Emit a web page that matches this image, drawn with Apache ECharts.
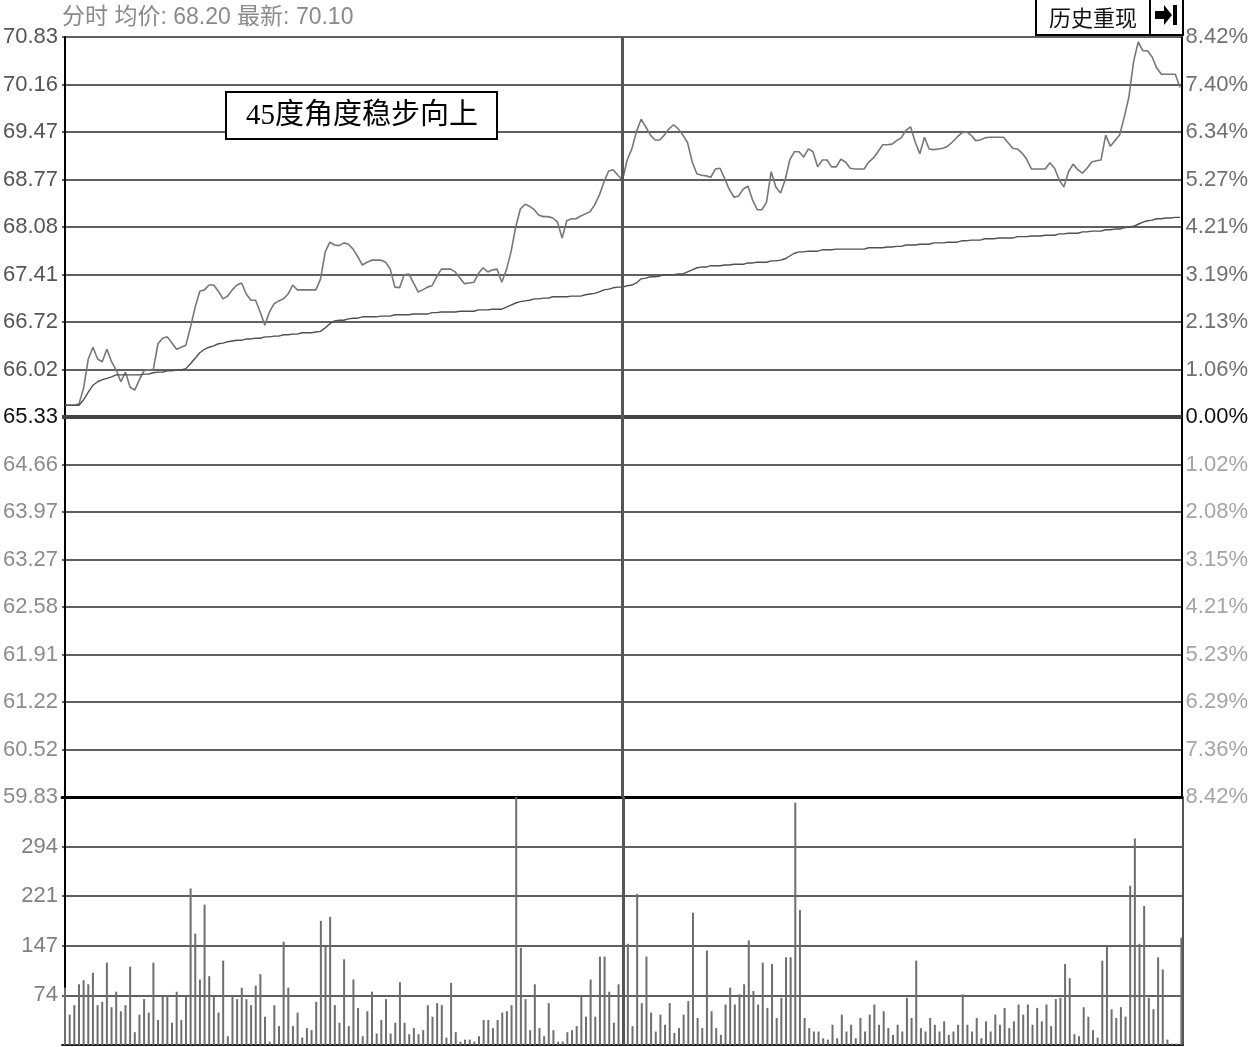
<!DOCTYPE html>
<html><head><meta charset="utf-8">
<script src="https://cdn.jsdelivr.net/npm/echarts@6.0.0/dist/echarts.min.js"></script>
<style>html,body{margin:0;padding:0;background:#fff}#c{width:1251px;height:1047px}</style>
</head><body><div id="c"></div>
<script>
// ---- data ----
const headerText = '分时 均价: 68.20 最新: 70.10';
const noteText = '45度角度稳步向上';
const buttonText = '历史重现';
const prevClose = 65.33;
const priceMin = 59.83, priceMax = 70.83, priceStep = 0.6875;
const priceTickLabels = ['59.83','60.52','61.22','61.91','62.58','63.27','63.97','64.66','65.33','66.02','66.72','67.41','68.08','68.77','69.47','70.16','70.83'];
const pctTickLabels = ['8.42%','7.36%','6.29%','5.23%','4.21%','3.15%','2.08%','1.02%','0.00%','1.06%','2.13%','3.19%','4.21%','5.27%','6.34%','7.40%','8.42%'];
const volMax = 367.5, volStep = 73.5;
const volTickLabels = ['','74','147','221','294',''];
const midMinute = 120;
const price = [65.50,65.50,65.50,65.52,65.75,66.17,66.34,66.17,66.13,66.31,
 66.13,66.01,65.84,65.98,65.76,65.72,65.87,66.00,66.01,66.02,
 66.39,66.47,66.49,66.40,66.31,66.34,66.37,66.63,66.92,67.15,
 67.17,67.24,67.24,67.15,67.04,67.08,67.17,67.24,67.27,67.11,
 67.02,67.02,66.85,66.66,66.85,66.97,67.01,67.04,67.11,67.24,
 67.17,67.17,67.17,67.17,67.17,67.33,67.72,67.86,67.82,67.81,
 67.85,67.83,67.76,67.65,67.53,67.57,67.60,67.60,67.60,67.57,
 67.47,67.21,67.20,67.39,67.40,67.27,67.14,67.17,67.21,67.23,
 67.36,67.47,67.47,67.47,67.43,67.34,67.26,67.27,67.28,67.41,
 67.49,67.43,67.46,67.47,67.28,67.46,67.72,68.08,68.34,68.41,
 68.38,68.33,68.25,68.23,68.23,68.21,68.15,67.92,68.17,68.20,
 68.20,68.24,68.27,68.30,68.40,68.54,68.73,68.89,68.91,68.83,
 68.76,69.05,69.21,69.46,69.64,69.53,69.41,69.34,69.34,69.41,
 69.50,69.56,69.50,69.41,69.30,69.02,68.85,68.83,68.82,68.80,
 68.92,68.93,68.78,68.62,68.51,68.53,68.63,68.67,68.47,68.33,
 68.33,68.44,68.88,68.66,68.57,68.76,69.05,69.17,69.17,69.09,
 69.21,69.17,68.95,69.05,69.05,68.95,68.95,69.06,69.02,68.93,
 68.92,68.92,68.92,69.02,69.08,69.17,69.27,69.27,69.28,69.33,
 69.37,69.48,69.53,69.31,69.14,69.38,69.21,69.20,69.21,69.22,
 69.25,69.31,69.38,69.44,69.46,69.41,69.33,69.34,69.37,69.38,
 69.38,69.38,69.38,69.30,69.22,69.21,69.15,69.06,68.92,68.92,
 68.92,68.92,69.01,68.93,68.76,68.66,68.88,68.99,68.91,68.86,
 68.93,69.02,69.04,69.05,69.41,69.25,69.33,69.41,69.67,69.96,
 70.47,70.76,70.63,70.63,70.54,70.38,70.29,70.29,70.29,70.29,
 70.10];
const avgPrice = [65.50,65.50,65.50,65.50,65.58,65.69,65.79,65.84,65.87,65.89,
 65.91,65.94,65.94,65.94,65.94,65.94,65.94,65.95,65.95,65.97,
 65.98,65.98,66.00,66.00,66.01,66.01,66.03,66.10,66.18,66.26,
 66.31,66.34,66.36,66.39,66.40,66.42,66.43,66.44,66.44,66.46,
 66.46,66.47,66.47,66.49,66.49,66.50,66.50,66.52,66.52,66.53,
 66.53,66.55,66.55,66.55,66.56,66.57,66.62,66.68,66.72,66.73,
 66.73,66.75,66.76,66.76,66.78,66.78,66.78,66.78,66.79,66.79,
 66.79,66.81,66.81,66.81,66.81,66.82,66.82,66.82,66.82,66.84,
 66.84,66.85,66.85,66.85,66.85,66.86,66.86,66.86,66.86,66.88,
 66.88,66.88,66.89,66.89,66.89,66.92,66.95,66.98,67.00,67.01,
 67.02,67.04,67.04,67.05,67.05,67.07,67.07,67.07,67.07,67.08,
 67.08,67.08,67.10,67.11,67.12,67.14,67.17,67.18,67.20,67.21,
 67.21,67.23,67.24,67.27,67.33,67.34,67.36,67.36,67.37,67.39,
 67.39,67.39,67.40,67.40,67.43,67.46,67.49,67.50,67.50,67.52,
 67.52,67.52,67.53,67.53,67.54,67.54,67.54,67.56,67.56,67.57,
 67.57,67.57,67.59,67.59,67.60,67.62,67.66,67.70,67.72,67.72,
 67.73,67.73,67.73,67.75,67.75,67.75,67.76,67.76,67.76,67.76,
 67.76,67.76,67.76,67.78,67.78,67.78,67.78,67.79,67.79,67.80,
 67.80,67.82,67.82,67.82,67.83,67.83,67.83,67.85,67.85,67.85,
 67.86,67.86,67.86,67.88,67.88,67.89,67.89,67.89,67.91,67.91,
 67.91,67.92,67.92,67.92,67.92,67.94,67.94,67.94,67.95,67.95,
 67.95,67.96,67.96,67.96,67.98,67.98,67.99,67.99,67.99,68.01,
 68.01,68.02,68.02,68.02,68.04,68.04,68.05,68.05,68.07,68.08,
 68.09,68.12,68.15,68.17,68.18,68.20,68.20,68.21,68.21,68.22,
 68.22];
const volume = [85,45,59,90,96,90,107,59,64,122,
 56,79,50,59,116,19,45,68,48,122,
 37,72,72,33,79,37,72,232,165,97,
 208,102,72,48,125,13,72,68,85,68,
 59,88,105,42,5,59,28,153,85,28,
 48,11,25,22,64,184,146,190,59,33,
 127,28,97,55,13,50,79,17,37,68,
 17,33,93,33,16,25,16,22,59,42,
 62,59,11,92,19,5,8,8,5,13,
 37,37,25,37,48,50,59,370,144,68,
 22,90,25,13,62,22,5,5,19,22,
 28,72,42,97,42,131,131,79,33,90,
 60,150,28,224,62,131,48,20,45,30,
 62,18,25,45,65,196,40,25,140,50,
 25,15,60,85,60,75,90,155,80,60,
 122,55,120,40,70,130,130,359,200,40,
 25,20,20,10,8,30,10,45,20,30,
 10,40,20,45,60,30,50,25,15,30,
 20,70,40,125,25,20,40,30,20,35,
 15,20,30,75,30,20,40,10,35,20,
 45,30,55,25,35,60,45,60,30,55,
 35,60,28,68,70,120,99,16,13,56,
 42,22,11,125,146,53,40,56,42,236,
 306,150,206,70,53,130,112,8,2,2,
 159];

// ---- chart ----
const chart = echarts.init(document.getElementById('c'), null, {renderer: 'canvas'});
const numFont = 'Liberation Sans, Arial, sans-serif';
const priceIdx = v => Math.round((v - priceMin) / priceStep);
const lowerColor = '#8c8c8c', upperColor = '#555', midColor = '#111';
const xBase = {type: 'value', min: -0.65, max: 240.35, axisTick: {show: false}, axisLabel: {show: false}, splitLine: {show: false}};

chart.setOption({
  animation: false,
  backgroundColor: '#fff',
  title: {text: headerText, left: 62, top: 6, padding: 0, textStyle: {fontSize: 23, color: '#8a8a8a', fontWeight: 'normal', fontFamily: 'Liberation Sans, Noto Sans CJK SC, sans-serif'}},
  grid: [
    {left: 62, right: 68, top: 37, height: 760},
    {left: 62, right: 68, top: 797, height: 248}
  ],
  xAxis: [
    Object.assign({}, xBase, {gridIndex: 0, axisLine: {show: true, onZero: false, lineStyle: {color: '#000', width: 3}}}),
    Object.assign({}, xBase, {gridIndex: 1, axisLine: {show: true, onZero: false, lineStyle: {color: '#222', width: 2}}})
  ],
  yAxis: [
    {gridIndex: 0, type: 'value', position: 'left', min: priceMin, max: priceMax, interval: priceStep,
     axisLine: {show: true, lineStyle: {color: '#000', width: 2}}, axisTick: {show: false},
     axisLabel: {show: true, showMinLabel: true, showMaxLabel: true, margin: 4, fontSize: 22, fontFamily: numFont,
       formatter: v => priceTickLabels[priceIdx(v)] || '',
       color: v => { const i = priceIdx(v); return i === 8 ? midColor : (i > 8 ? upperColor : lowerColor); }},
     splitLine: {show: true, lineStyle: {color: '#606060', width: 2}}},
    {gridIndex: 0, type: 'value', position: 'right', min: priceMin, max: priceMax, interval: priceStep,
     axisLine: {show: true, lineStyle: {color: '#000', width: 2}}, axisTick: {show: false},
     axisLabel: {show: true, showMinLabel: true, showMaxLabel: true, margin: 4, fontSize: 22, fontFamily: numFont,
       formatter: v => pctTickLabels[priceIdx(v)] || '',
       color: v => { const i = priceIdx(v); return i === 8 ? midColor : (i > 8 ? '#707070' : '#a5a5a5'); }},
     splitLine: {show: false}},
    {gridIndex: 1, type: 'value', position: 'left', min: 0, max: volMax, interval: volStep,
     axisLine: {show: true, lineStyle: {color: '#000', width: 2}}, axisTick: {show: false},
     axisLabel: {show: true, margin: 4, fontSize: 22, fontFamily: numFont, color: '#808080',
       formatter: v => volTickLabels[Math.round(v / volStep)] || ''},
     splitLine: {show: true, lineStyle: {color: '#606060', width: 2}}},
    {gridIndex: 1, type: 'value', position: 'right', min: 0, max: volMax, interval: volStep,
     axisLine: {show: true, lineStyle: {color: '#555', width: 2}}, axisTick: {show: false},
     axisLabel: {show: false}, splitLine: {show: false}}
  ],
  series: [
    {type: 'line', name: 'price', xAxisIndex: 0, yAxisIndex: 0, data: price.map((p, i) => [i, p]),
     symbol: 'none', lineStyle: {color: '#777', width: 1.6}, z: 3,
     markLine: {silent: true, symbol: 'none', label: {show: false}, animation: false,
       data: [
         {yAxis: prevClose, lineStyle: {color: '#444', width: 4, type: 'solid'}},
         {xAxis: midMinute, lineStyle: {color: '#555', width: 3, type: 'solid'}}
       ]}},
    {type: 'line', name: 'avg', xAxisIndex: 0, yAxisIndex: 0, data: avgPrice.map((p, i) => [i, p]),
     symbol: 'none', lineStyle: {color: '#505050', width: 1.4}, z: 3},
    {type: 'bar', name: 'vol', xAxisIndex: 1, yAxisIndex: 2, data: volume.map((v, i) => [i, v]),
     barWidth: 2, itemStyle: {color: '#6e6e6e'}, clip: true,
     markLine: {silent: true, symbol: 'none', label: {show: false}, animation: false,
       data: [{xAxis: midMinute, lineStyle: {color: '#555', width: 3, type: 'solid'}}]}}
  ],
  graphic: [
    {type: 'rect', shape: {x: 1036, y: -2, width: 114, height: 37}, style: {fill: '#fff', stroke: '#000', lineWidth: 2}, z: 10},
    {type: 'text', x: 1093, y: 18, style: {text: buttonText, fill: '#111', fontSize: 22, fontFamily: 'Noto Sans CJK SC, sans-serif', align: 'center', verticalAlign: 'middle'}, z: 11},
    {type: 'rect', shape: {x: 1150, y: -2, width: 33, height: 37}, style: {fill: '#fff', stroke: '#000', lineWidth: 2}, z: 10},
    {type: 'polygon', shape: {points: [[1155, 11], [1164, 11], [1164, 5], [1172, 15], [1164, 25], [1164, 19], [1155, 19]]}, style: {fill: '#000'}, z: 11},
    {type: 'rect', shape: {x: 1173, y: 5, width: 4, height: 20}, style: {fill: '#000'}, z: 11},
    {type: 'rect', shape: {x: 226, y: 92, width: 271, height: 47}, style: {fill: '#fff', stroke: '#000', lineWidth: 2}, z: 10},
    {type: 'text', x: 362, y: 116, style: {text: noteText, fill: '#000', fontSize: 29, fontFamily: 'Liberation Serif, Noto Sans CJK SC, serif', align: 'center', verticalAlign: 'middle'}, z: 11}
  ]
});
</script></body></html>
